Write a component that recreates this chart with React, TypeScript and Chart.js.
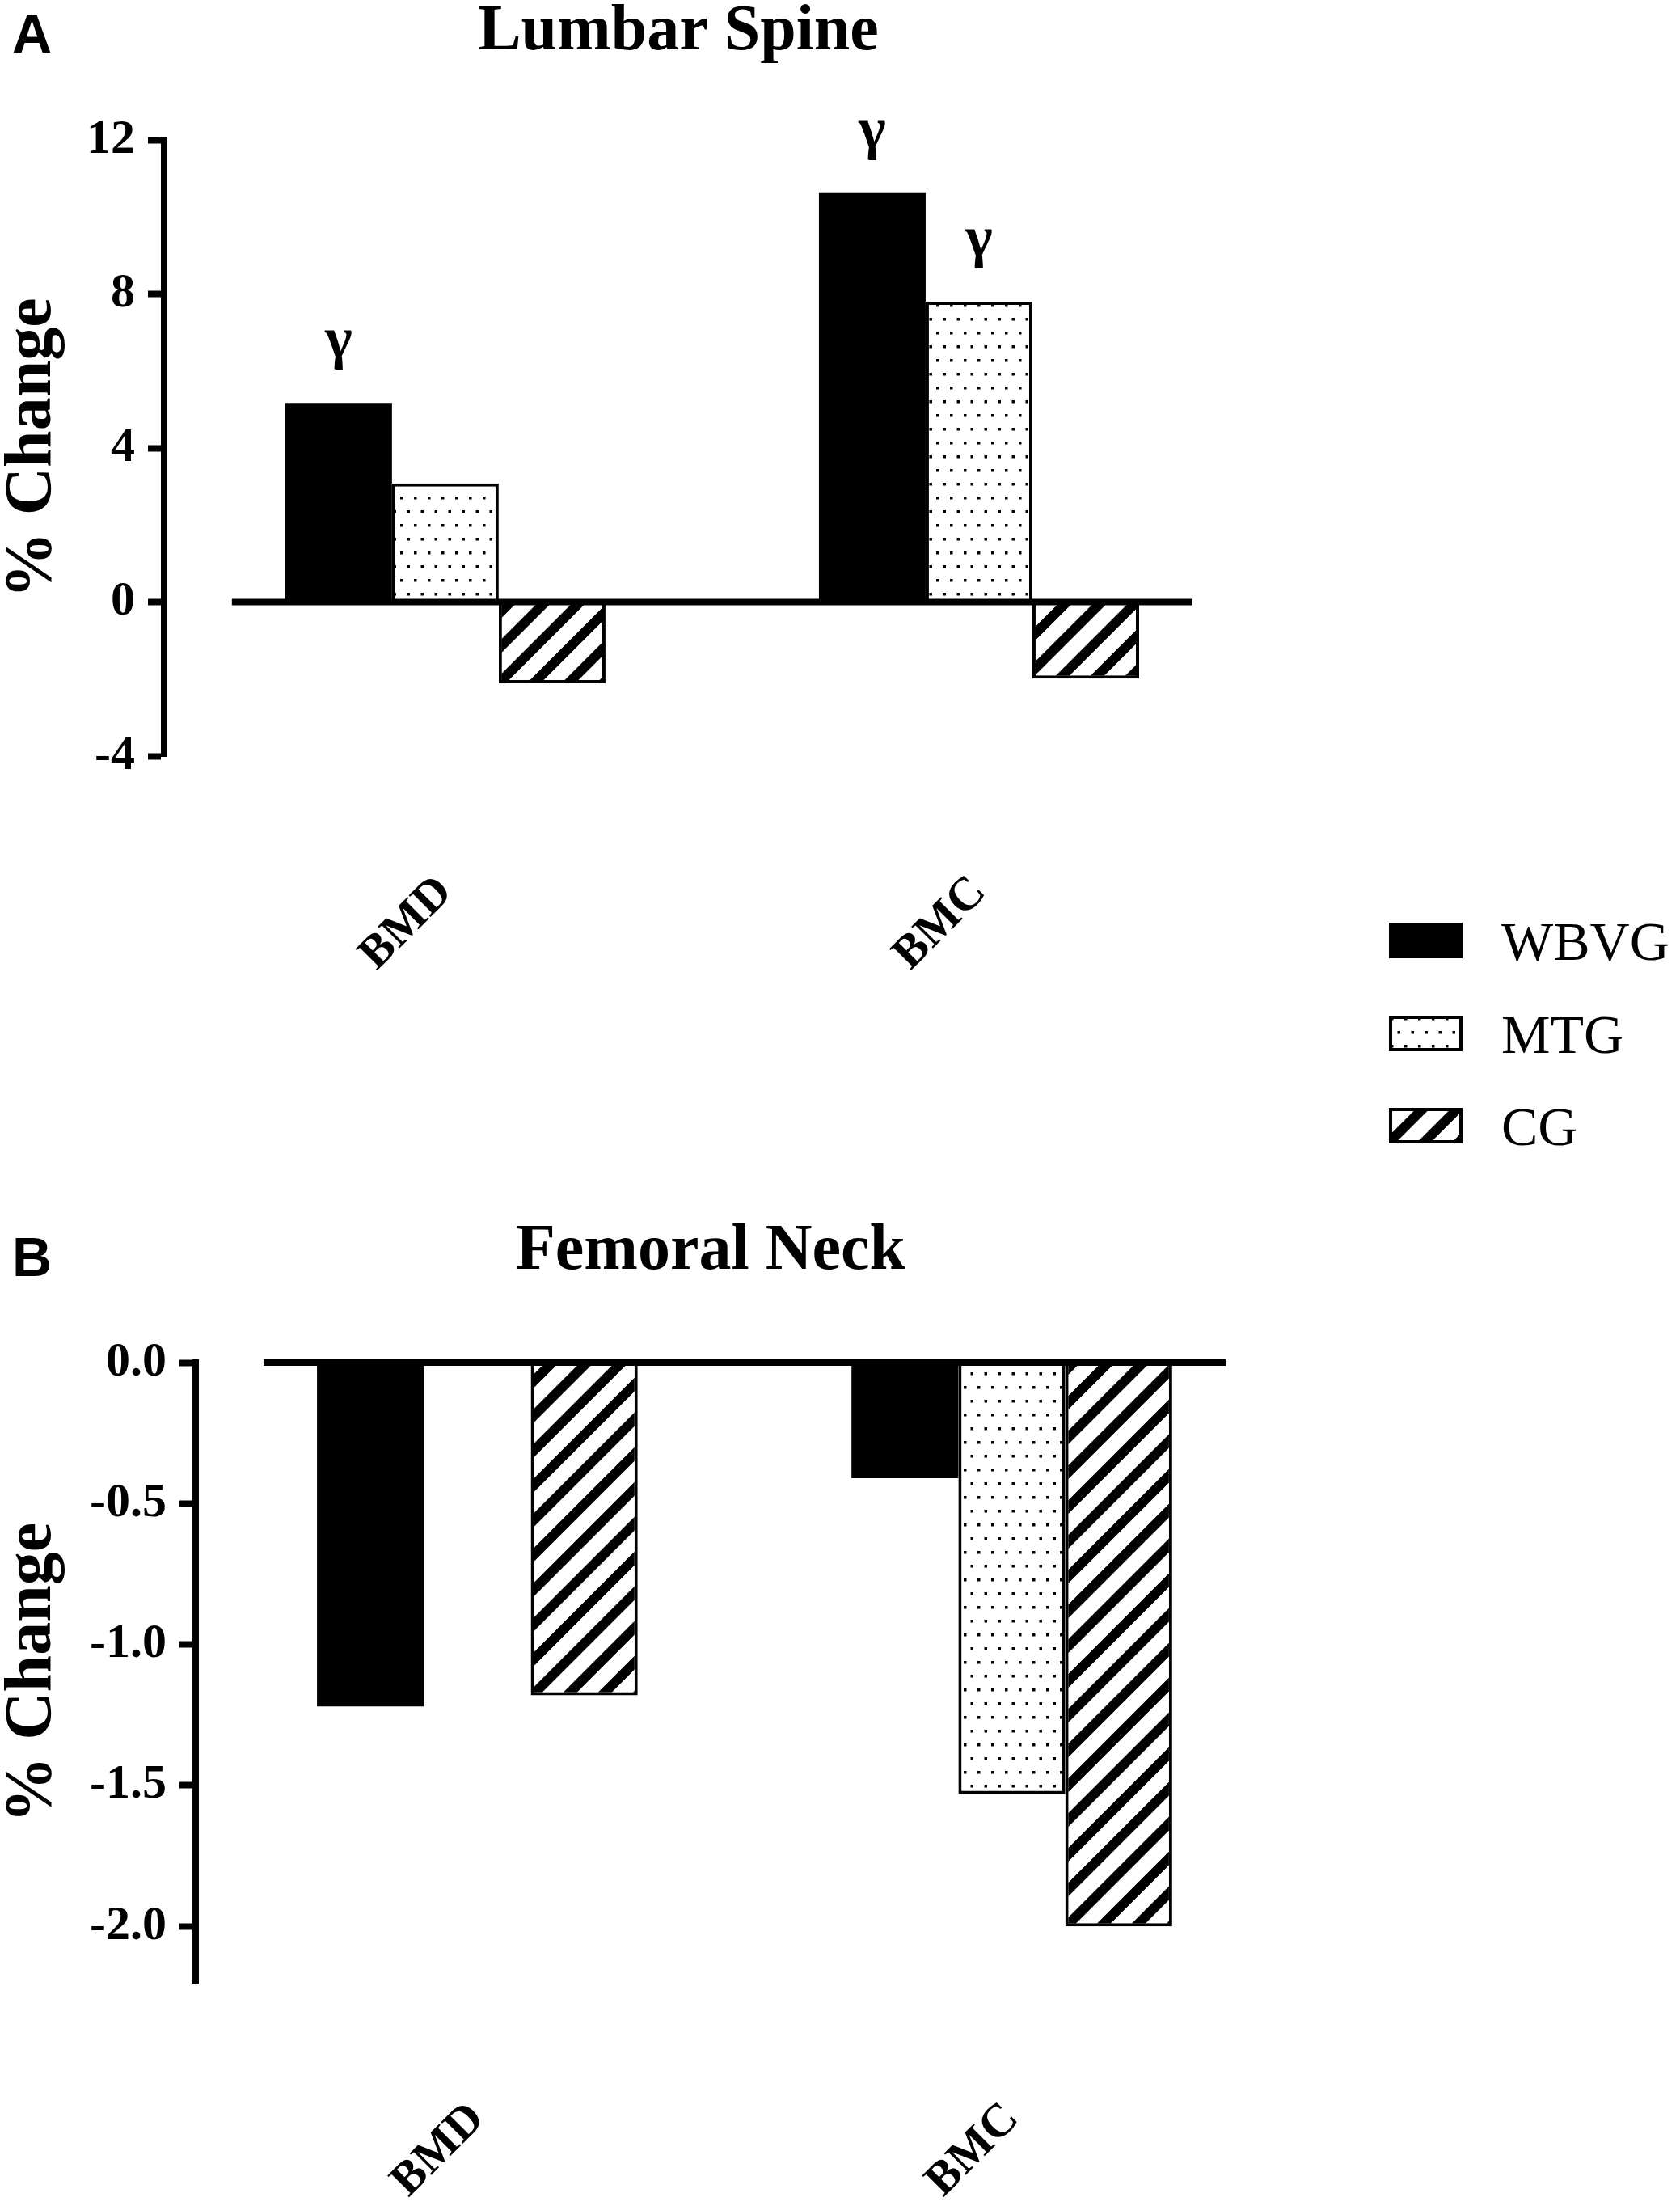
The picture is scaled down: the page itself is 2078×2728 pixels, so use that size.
import { useEffect, useRef } from 'react';
import { Chart, registerables } from 'chart.js';

Chart.register(...registerables);

const SERIF = "'Liberation Serif', 'Times New Roman', serif";
Chart.defaults.font.family = SERIF;
Chart.defaults.color = '#000';

// ---- data ----
const categories = ['BMD', 'BMC'];
const groups = ['WBVG', 'MTG', 'CG'];

// Lumbar spine, % change
const lumbarWBVG = [5.17, 10.62];
const lumbarMTG = [3.08, 7.8];
const lumbarCG = [-2.11, -1.99];
const lumbarTicks = [-4, 0, 4, 8, 12];
const lumbarWBVGMarks = ['γ', 'γ'];
const lumbarMTGMarks = ['', 'γ'];
const lumbarCGMarks = ['', ''];

// Femoral neck, % change
const femoralWBVG = [-1.22, -0.41];
const femoralMTG = [0, -1.53];
const femoralCG = [-1.18, -2.0];
const femoralTicks = [0, -0.5, -1.0, -1.5, -2.0];

// x range in category units (y axis sits left of the zero line, Prism style)
const X_MIN = -0.527;
const X_MAX = 1.4;
const ZERO_LINE_FROM = -0.4;

function dotFill(ctx: CanvasRenderingContext2D): CanvasPattern | string {
  const c = document.createElement('canvas');
  c.width = 17;
  c.height = 34;
  const g = c.getContext('2d')!;
  g.fillStyle = '#fff';
  g.fillRect(0, 0, 17, 34);
  g.fillStyle = '#000';
  g.fillRect(2, 2, 3.5, 3.5);
  g.fillRect(10.5, 19, 3.5, 3.5);
  return ctx.createPattern(c, 'repeat') ?? '#fff';
}

function stripeFill(ctx: CanvasRenderingContext2D): CanvasPattern | string {
  const p = 43;
  const c = document.createElement('canvas');
  c.width = p;
  c.height = p;
  const g = c.getContext('2d')!;
  g.fillStyle = '#fff';
  g.fillRect(0, 0, p, p);
  g.strokeStyle = '#000';
  g.lineWidth = 12;
  // lines x + y = k*p, drawn well past the tile so the tiling is seamless
  g.beginPath();
  for (const k of [0, 1, 2]) {
    g.moveTo(k * p + p, -p);
    g.lineTo(k * p - 2 * p, 2 * p);
  }
  g.stroke();
  return ctx.createPattern(c, 'repeat') ?? '#fff';
}

const fills = [(_: CanvasRenderingContext2D) => '#000', dotFill, stripeFill];

const zeroLine = {
  id: 'zeroLine',
  afterDatasetsDraw(chart: Chart) {
    const { ctx, chartArea, scales } = chart;
    const y = scales.y.getPixelForValue(0);
    const x0 = scales.x.getPixelForValue(ZERO_LINE_FROM);
    ctx.save();
    ctx.strokeStyle = '#000';
    ctx.lineWidth = 8;
    ctx.beginPath();
    ctx.moveTo(x0, y);
    ctx.lineTo(chartArea.right, y);
    ctx.stroke();
    ctx.restore();
  },
};

function gammaPlugin(marks: string[][]) {
  return {
    id: 'gammaMarks',
    afterDatasetsDraw(chart: Chart) {
      const ctx = chart.ctx;
      ctx.save();
      ctx.font = `bold 72px ${SERIF}`;
      ctx.fillStyle = '#000';
      ctx.textAlign = 'center';
      ctx.textBaseline = 'alphabetic';
      marks.forEach((row, k) => {
        const meta = chart.getDatasetMeta(k);
        row.forEach((m, i) => {
          if (!m) return;
          const bar = meta.data[i] as any;
          ctx.fillText(m, bar.x, bar.y - 56);
        });
      });
      ctx.restore();
    },
  };
}

interface PanelProps {
  title: string;
  series: number[][];
  marks: string[][];
  ticks: number[];
  yMin: number;
  yMax: number;
  digits: number;
  top: number;
  height: number;
  axisWidth: number;
  padRight: number;
  titleGap: number;
  xAxisHeight: number;
}

function BarPanel(p: PanelProps) {
  const canvasRef = useRef<HTMLCanvasElement>(null);

  useEffect(() => {
    if (!canvasRef.current) return;
    const ctx2d = canvasRef.current.getContext('2d')!;
    const chart = new Chart(canvasRef.current, {
      type: 'bar',
      data: {
        datasets: groups.map((g, k) => ({
          label: g,
          data: p.series[k].map((v, i) => ({ x: i, y: v })),
          backgroundColor: fills[k](ctx2d),
          borderColor: '#000',
          borderWidth: k === 0 ? 0 : 4,
          categoryPercentage: 0.6,
          barPercentage: 1,
        })),
      },
      options: {
        responsive: false,
        animation: false,
        devicePixelRatio: 1,
        layout: { padding: { top: 0, left: 0, bottom: 0, right: p.padRight } },
        plugins: {
          legend: { display: false },
          tooltip: { enabled: false },
          title: {
            display: true,
            text: p.title,
            fullSize: false,
            color: '#000',
            font: { family: SERIF, size: 80, weight: 'bold', lineHeight: 1 },
            padding: { top: 0, bottom: p.titleGap },
          },
        },
        scales: {
          x: {
            type: 'linear',
            min: X_MIN,
            max: X_MAX,
            offset: false,
            afterBuildTicks: (s: any) => {
              s.ticks = categories.map((_, i) => ({ value: i }));
            },
            afterFit: (s: any) => {
              s.height = p.xAxisHeight;
            },
            grid: { display: false, drawTicks: false, offset: false },
            border: { display: false },
            ticks: {
              autoSkip: false,
              minRotation: 45,
              maxRotation: 45,
              padding: 135,
              color: '#000',
              font: { family: SERIF, size: 58, weight: 'bold' },
              callback: (v: any) => categories[Number(v)] ?? '',
            },
          },
          y: {
            min: p.yMin,
            max: p.yMax,
            afterBuildTicks: (s: any) => {
              s.ticks = p.ticks.map((v) => ({ value: v }));
            },
            afterFit: (s: any) => {
              s.width = p.axisWidth;
            },
            grid: {
              drawOnChartArea: false,
              drawTicks: true,
              tickLength: 20,
              tickWidth: 8,
              tickColor: '#000',
            },
            border: { display: true, width: 8, color: '#000' },
            ticks: {
              padding: 16,
              color: '#000',
              font: { family: SERIF, size: 60, weight: 'bold' },
              callback: (v: any) => Number(v).toFixed(p.digits),
            },
            title: {
              display: true,
              text: '% Change',
              color: '#000',
              font: { family: SERIF, size: 82, weight: 'bold', lineHeight: 1 },
              padding: 0,
            },
          },
        },
      },
      plugins: [zeroLine, gammaPlugin(p.marks)],
    } as any);

    return () => chart.destroy();
  }, [p]);

  return (
    <canvas
      ref={canvasRef}
      width={1560}
      height={p.height}
      style={{ position: 'absolute', left: 0, top: p.top, width: 1560, height: p.height }}
    />
  );
}

function Swatch({ k }: { k: number }) {
  const ref = useRef<HTMLCanvasElement>(null);
  useEffect(() => {
    if (!ref.current) return;
    const g = ref.current.getContext('2d')!;
    const w = ref.current.width;
    const h = ref.current.height;
    g.fillStyle = fills[k](g) as any;
    g.fillRect(0, 0, w, h);
    if (k > 0) {
      g.strokeStyle = '#000';
      g.lineWidth = 4;
      g.strokeRect(2, 2, w - 4, h - 4);
    }
  }, [k]);
  return <canvas ref={ref} width={91} height={44} style={{ display: 'block' }} />;
}

const legendTop = 1141;
const legendStep = 114.5;

const lumbarProps: PanelProps = {
  title: 'Lumbar Spine',
  series: [lumbarWBVG, lumbarMTG, lumbarCG],
  marks: [lumbarWBVGMarks, lumbarMTGMarks, lumbarCGMarks],
  ticks: lumbarTicks,
  yMin: -4,
  yMax: 12,
  digits: 0,
  top: 0,
  height: 1230,
  axisWidth: 203,
  padRight: 85,
  titleGap: 93,
  xAxisHeight: 295,
};

const femoralProps: PanelProps = {
  title: 'Femoral Neck',
  series: [femoralWBVG, femoralMTG, femoralCG],
  marks: [[], [], []],
  ticks: femoralTicks,
  yMin: -2.2,
  yMax: 0,
  digits: 1,
  top: 1508,
  height: 1220,
  axisWidth: 242,
  padRight: 44,
  titleGap: 97,
  xAxisHeight: 276,
};

const letterStyle: React.CSSProperties = {
  position: 'absolute',
  left: 15,
  fontFamily: "'Liberation Sans', Arial, sans-serif",
  fontWeight: 'bold',
  fontSize: 68,
  lineHeight: '68px',
  color: '#000',
};

export default function App() {
  return (
    <div style={{ position: 'absolute', left: 0, top: 0, width: 2078, height: 2728, background: '#fff', overflow: 'hidden' }}>
      <BarPanel {...lumbarProps} />
      <BarPanel {...femoralProps} />
      <div style={{ ...letterStyle, top: 7 }}>A</div>
      <div style={{ ...letterStyle, top: 1520 }}>B</div>
      {groups.map((g, k) => (
        <div key={g}>
          <div style={{ position: 'absolute', left: 1718, top: legendTop + k * legendStep }}>
            <Swatch k={k} />
          </div>
          <div
            style={{
              position: 'absolute',
              left: 1857,
              top: legendTop + k * legendStep + 46 - 57,
              fontFamily: SERIF,
              fontSize: 68,
              lineHeight: '68px',
              color: '#000',
              whiteSpace: 'nowrap',
            }}
          >
            {g}
          </div>
        </div>
      ))}
    </div>
  );
}
